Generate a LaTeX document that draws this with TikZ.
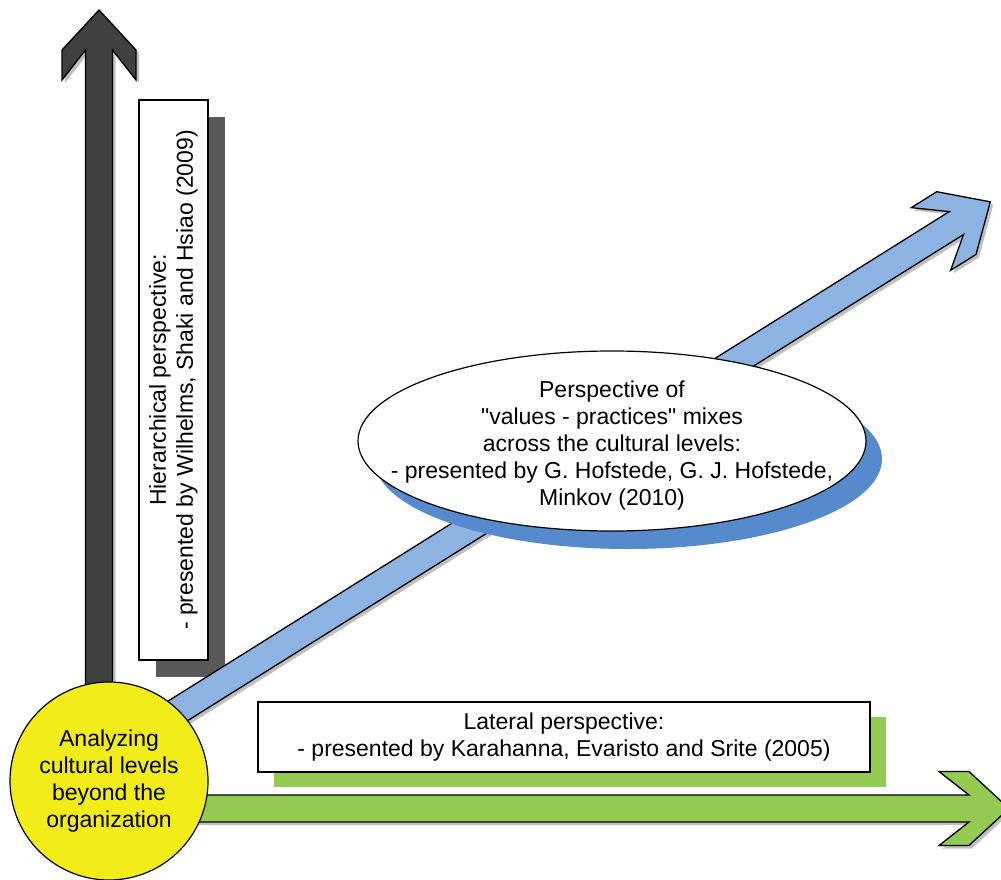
\documentclass[tikz,border=0pt]{standalone}
\usepackage{fontspec}
\setmainfont{Liberation Sans}
\usetikzlibrary{shapes.geometric}

\definecolor{darkarrow}{RGB}{64,64,64}
\definecolor{arrowshade}{RGB}{192,192,192}
\definecolor{boxshade}{RGB}{89,89,89}
\definecolor{bluearrow}{RGB}{141,179,226}
\definecolor{blueshade}{RGB}{85,139,204}
\definecolor{greenarrow}{RGB}{146,202,82}
\definecolor{coreyellow}{RGB}{242,236,24}

% Chevron-headed block arrow pointing along +x, tip at (#1,0)
\newcommand{\chevronpath}[1]{(0,-13.5) -- ({#1-40},-13.5) -- ({#1-70},-37) -- ({#1-40},-37)
  -- (#1,0) -- ({#1-40},37) -- ({#1-70},37) -- ({#1-40},13.5) -- (0,13.5) -- cycle}

\begin{document}
\begin{tikzpicture}[x=1pt,y=-1pt,
  txt/.style={font=\fontsize{23}{27}\selectfont, align=center, inner sep=0pt},
  outline/.style={draw=black, line width=1.3pt, line join=miter},
  shade/.style={fill=arrowshade}]

\useasboundingbox (0,0) rectangle (1001,880);
\clip (0,0) rectangle (1001,880);

% vertical (hierarchical) arrow
\begin{scope}[shift={(102,784)}, rotate=90]
  \fill[shade] \chevronpath{771};
\end{scope}
\begin{scope}[shift={(99,781)}, rotate=90]
  \filldraw[outline, fill=darkarrow] \chevronpath{771};
\end{scope}

% hierarchical perspective box
\node[fill=boxshade, rotate=90, minimum width=560, minimum height=69, inner sep=0pt]
  (hiershade) at (190.5,397) {};
\node[txt, draw=black, line width=1.2pt, fill=white, rotate=90, minimum width=560, minimum height=69]
  (hier) at (173.5,380) {Hierarchical perspective:\\- presented by Wilhelms, Shaki and Hsiao (2009)};

% diagonal (values - practices) arrow
\begin{scope}[shift={(112,757)}, rotate=32.07]
  \fill[shade] \chevronpath{1040};
\end{scope}
\begin{scope}[shift={(109,754)}, rotate=32.07]
  \filldraw[outline, fill=bluearrow] \chevronpath{1040};
\end{scope}

% values - practices ellipse
\node[ellipse, fill=blueshade, minimum width=508, minimum height=180, inner sep=0pt]
  (perspshade) at (628,459) {};
\node[ellipse, draw=black, line width=1.2pt, fill=white, minimum width=508, minimum height=180, inner sep=0pt]
  (persp) at (612,441) {};
\node[txt] (persptext) at (persp.center) [yshift=-5pt]
  {Perspective of\\\textquotedbl values - practices\textquotedbl{} mixes\\across the cultural levels:\\- presented by G. Hofstede, G. J. Hofstede,\\Minkov (2010)};

% horizontal (lateral) arrow
\begin{scope}[shift={(112,811.5)}]
  \fill[shade] \chevronpath{900};
\end{scope}
\begin{scope}[shift={(109,808.5)}]
  \filldraw[outline, fill=greenarrow] \chevronpath{900};
\end{scope}

% lateral perspective box
\node[fill=greenarrow, minimum width=612, minimum height=70, inner sep=0pt]
  (latshade) at (580,752) {};
\node[txt, draw=black, line width=1.2pt, fill=white, minimum width=612, minimum height=70]
  (lat) at (564,737) {Lateral perspective:\\- presented by Karahanna, Evaristo and Srite (2005)};

% central circle
\node[txt, circle, draw=black, line width=1.2pt, fill=coreyellow, minimum size=198]
  (core) at (109,781) {Analyzing\\cultural levels\\beyond the\\organization};

\end{tikzpicture}
\end{document}
